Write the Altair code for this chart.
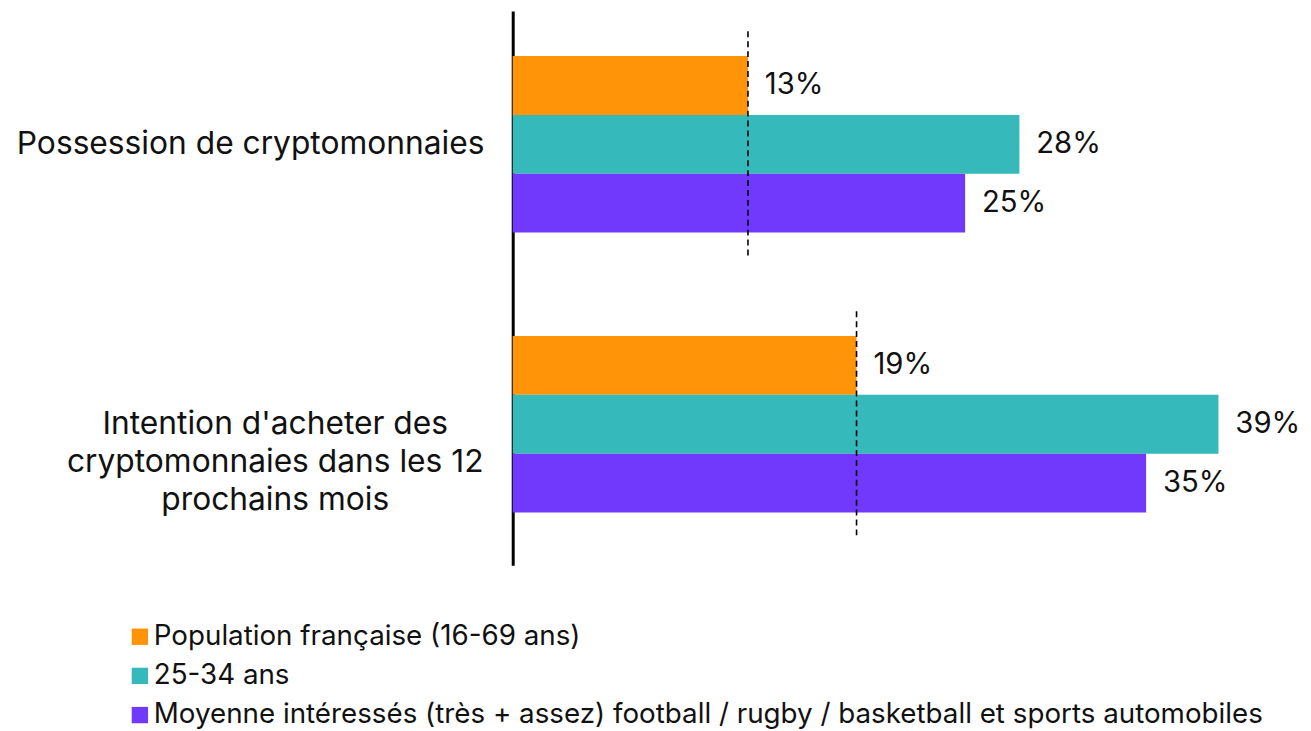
import json
import altair as alt
import pandas as pd

categories = [
    "Possession de cryptomonnaies",
    "Intention d'acheter des cryptomonnaies dans les 12 prochains mois",
]
category_lines = {
    categories[0]: ["Possession de cryptomonnaies"],
    categories[1]: ["Intention d'acheter des", "cryptomonnaies dans les 12", "prochains mois"],
}
series = [
    "Population française (16-69 ans)",
    "25-34 ans",
    "Moyenne intéressés (très + assez) football / rugby / basketball et sports automobiles",
]
population = [13, 19]
age_25_34 = [28, 39]
moyenne = [25, 35]
colors = ["#FF9408", "#35B9BA", "#7139FB"]

rows = []
for i, c in enumerate(categories):
    for s, vals in zip(series, [population, age_25_34, moyenne]):
        rows.append({"category": c, "series": s, "value": vals[i]})
df = pd.DataFrame(rows)
ref_df = pd.DataFrame({"category": categories, "value": population})

FONT = "Inter"
label_expr = json.dumps(category_lines) + "[datum.value]"
test = "datum.value == 'Possession de cryptomonnaies'"

y_enc = alt.Y(
    "category:N",
    sort=categories,
    scale=alt.Scale(paddingInner=0.37, paddingOuter=0.175, align=0.46),
    axis=alt.Axis(
        title=None,
        domain=True,
        domainColor="black",
        domainWidth=3,
        ticks=False,
        grid=False,
        labelFont=FONT,
        labelFontSize=32,
        labelColor="#111111",
        labelLineHeight=38,
        labelLimit=0,
        labelBaseline="middle",
        labelExpr=label_expr,
        labelAlign={"condition": {"test": test, "value": "right"}, "value": "center"},
        labelPadding={"condition": {"test": test, "value": 29}, "value": 240},
    ),
)

x_enc = alt.X("value:Q", scale=alt.Scale(domain=[0, 40]), axis=None)

bars = alt.Chart(df).mark_bar().encode(
    y=y_enc,
    yOffset=alt.YOffset("series:N", sort=series, scale=alt.Scale(paddingInner=0, paddingOuter=0)),
    x=x_enc,
    color=alt.Color(
        "series:N",
        sort=series,
        scale=alt.Scale(domain=series, range=colors),
        legend=alt.Legend(
            title=None,
            orient="none",
            legendX=-390,
            legendY=617,
            direction="vertical",
            symbolType="square",
            symbolSize=272,
            symbolStrokeWidth=0,
            labelFont=FONT,
            labelFontSize=28,
            labelColor="#111111",
            labelLimit=0,
            labelOffset=0,
            rowPadding=11.5,
            padding=0,
        ),
    ),
)

texts = alt.Chart(df).transform_calculate(
    label="format(datum.value, 'd') + '%'"
).mark_text(
    align="left", baseline="middle", dx=17, font=FONT, fontSize=29.5, color="#111111"
).encode(
    y=alt.Y("category:N", sort=categories),
    yOffset=alt.YOffset("series:N", sort=series),
    x=alt.X("value:Q"),
    text="label:N",
)

rules = alt.Chart(ref_df).mark_rule(
    color="black", strokeWidth=1.6, strokeDash=[6, 4], yOffset=-25, y2Offset=27
).encode(
    x=alt.X("value:Q"),
    y=alt.Y("category:N", sort=categories, bandPosition=0),
    y2=alt.Y2("category:N", bandPosition=1),
)

chart = alt.layer(bars, texts, rules).properties(
    width=730,
    height=559,
    padding={"left": 8, "top": 0, "right": 2, "bottom": 0},
).configure_view(stroke=None)

chart.save("out.html", embed_options={"renderer": "svg", "actions": False})
